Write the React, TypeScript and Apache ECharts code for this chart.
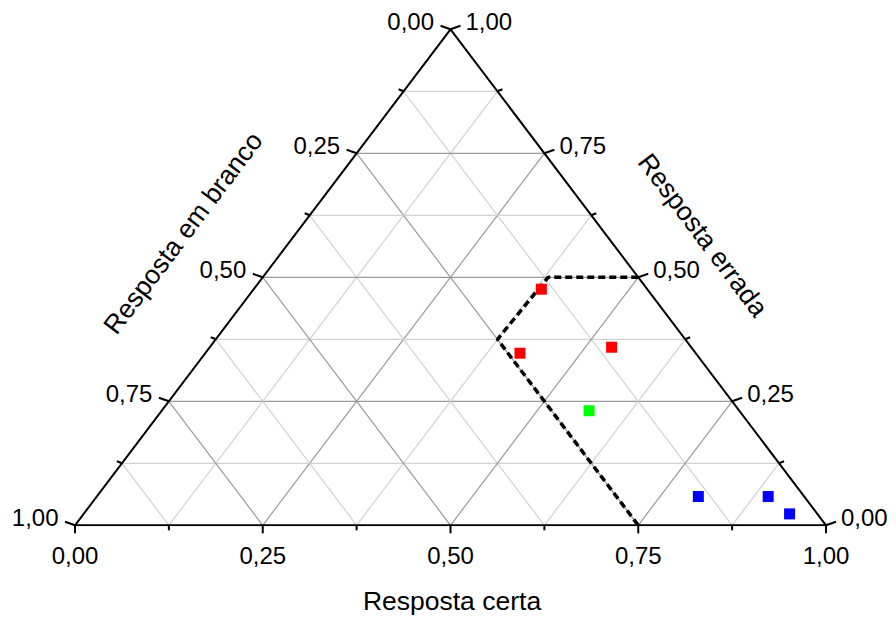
import React, { useEffect, useRef } from 'react';
import * as echarts from 'echarts';

// ternary data: certa (bottom axis), errada (right axis); branco = 1 - certa - errada
const gridLevels = [0.125, 0.25, 0.375, 0.5, 0.625, 0.75, 0.875];
const tickLevels = [0, 0.125, 0.25, 0.375, 0.5, 0.625, 0.75, 0.875, 1];
const tickValues = [0, 0.25, 0.5, 0.75, 1];
const tickLabels = ['0,00', '0,25', '0,50', '0,75', '1,00'];

const titleBottom = 'Resposta certa';
const titleLeft = 'Resposta em branco';
const titleRight = 'Resposta errada';

const redCerta = [0.383, 0.419, 0.535];
const redErrada = [0.476, 0.347, 0.359];
const greenCerta = [0.569];
const greenErrada = [0.231];
const blueCerta = [0.801, 0.894, 0.94];
const blueErrada = [0.058, 0.058, 0.023];
const boundaryCerta = [0.5, 0.38, 0.375, 0.75];
const boundaryErrada = [0.5, 0.5, 0.375, 0];

const FONT = "'Liberation Sans', Arial, sans-serif";

const toXY = (c: number, e: number) => [c + e / 2, e];

function isMajor(v: number) {
  return Math.abs(v * 4 - Math.round(v * 4)) < 1e-6;
}

// grid segments: [x1, y1, x2, y2, major]
function buildGrid() {
  const segs: number[][] = [];
  gridLevels.forEach((v) => {
    const m = isMajor(v) ? 1 : 0;
    const a1 = toXY(0, v), a2 = toXY(1 - v, v); // errada = v
    segs.push([a1[0], a1[1], a2[0], a2[1], m]);
    const b1 = toXY(v, 0), b2 = toXY(v, 1 - v); // certa = v
    segs.push([b1[0], b1[1], b2[0], b2[1], m]);
    const c1 = toXY(1 - v, 0), c2 = toXY(0, 1 - v); // branco = v
    segs.push([c1[0], c1[1], c2[0], c2[1], m]);
  });
  return segs;
}

// ticks: [x, y, axis, major, labelIndex]
function buildTicks() {
  const t: number[][] = [];
  tickLevels.forEach((v) => {
    const m = isMajor(v) ? 1 : 0;
    const li = tickValues.findIndex((tv) => Math.abs(tv - v) < 1e-6);
    const p0 = toXY(v, 0); // certa = v
    t.push([p0[0], p0[1], 0, m, li]);
    const p1 = toXY(0, 1 - v); // branco = v
    t.push([p1[0], p1[1], 1, m, li]);
    const p2 = toXY(1 - v, v); // errada = v
    t.push([p2[0], p2[1], 2, m, li]);
  });
  return t;
}

const pts = (cs: number[], es: number[]) => cs.map((c, i) => toXY(c, es[i]));

export default function App() {
  const ref = useRef<HTMLDivElement>(null);
  useEffect(() => {
    if (!ref.current) return;
    const chart = echarts.init(ref.current, undefined, { renderer: 'svg' });
    const option: any = {
      animation: false,
      backgroundColor: '#ffffff',
      grid: { left: 75, top: 29.3, width: 751, height: 496, containLabel: false },
      xAxis: { type: 'value', min: 0, max: 1, show: false },
      yAxis: { type: 'value', min: 0, max: 1, show: false },
      series: [
        {
          type: 'custom',
          clip: false,
          silent: true,
          z: 1,
          data: buildGrid(),
          renderItem: (params: any, api: any) => {
            const p1 = api.coord([api.value(0), api.value(1)]);
            const p2 = api.coord([api.value(2), api.value(3)]);
            const major = api.value(4) === 1;
            return {
              type: 'line',
              shape: { x1: p1[0], y1: p1[1], x2: p2[0], y2: p2[1] },
              style: { stroke: major ? '#9a9a9a' : '#d2d2d2', lineWidth: 1.2 },
            };
          },
        },
        {
          type: 'line',
          z: 3,
          silent: true,
          symbol: 'none',
          data: [toXY(0, 0), toXY(1, 0), toXY(0, 1), toXY(0, 0)],
          lineStyle: { color: '#000', width: 2 },
        },
        {
          type: 'custom',
          clip: false,
          silent: true,
          z: 3,
          data: buildTicks(),
          renderItem: (params: any, api: any) => {
            const p = api.coord([api.value(0), api.value(1)]);
            const axis = api.value(2);
            const major = api.value(3) === 1;
            const li = api.value(4);
            let dx = 0, dy = 0, lx = 0, ly = 0, align = 'center';
            if (axis === 0) {
              dx = 0; dy = major ? 8 : 5;
              lx = 0; ly = 30; align = 'center';
            } else if (axis === 1) {
              dx = major ? -10 : -5; dy = major ? -3.5 : -2;
              lx = -16.5; ly = -7.5; align = 'right';
            } else {
              dx = major ? 10 : 5; dy = major ? -3.5 : -2;
              lx = 15; ly = -7.5; align = 'left';
            }
            const children: any[] = [
              {
                type: 'line',
                shape: { x1: p[0], y1: p[1], x2: p[0] + dx, y2: p[1] + dy },
                style: { stroke: '#000', lineWidth: 2 },
              },
            ];
            if (major && li >= 0) {
              children.push({
                type: 'text',
                x: p[0] + lx,
                y: p[1] + ly,
                style: {
                  text: tickLabels[li],
                  fill: '#000',
                  fontSize: 24,
                  fontFamily: FONT,
                  align,
                  verticalAlign: 'middle',
                },
              });
            }
            return { type: 'group', children };
          },
        },
        {
          type: 'line',
          z: 4,
          silent: true,
          symbol: 'none',
          data: pts(boundaryCerta, boundaryErrada),
          lineStyle: { color: '#000', width: 3.5, type: [7, 4] },
        },
        {
          type: 'scatter',
          z: 5,
          symbol: 'rect',
          symbolSize: 11,
          itemStyle: { color: '#ff0000', opacity: 1 },
          data: pts(redCerta, redErrada),
        },
        {
          type: 'scatter',
          z: 5,
          symbol: 'rect',
          symbolSize: 11,
          itemStyle: { color: '#00ff00', opacity: 1 },
          data: pts(greenCerta, greenErrada),
        },
        {
          type: 'scatter',
          z: 5,
          symbol: 'rect',
          symbolSize: 11,
          itemStyle: { color: '#0000ff', opacity: 1 },
          data: pts(blueCerta, blueErrada),
        },
      ],
      graphic: [
        {
          type: 'text',
          x: 452,
          y: 601,
          style: { text: titleBottom, fill: '#000', fontSize: 26.5, fontFamily: FONT, align: 'center', verticalAlign: 'middle' },
        },
        {
          type: 'text',
          x: 183,
          y: 233,
          rotation: (53 * Math.PI) / 180,
          style: { text: titleLeft, fill: '#000', fontSize: 26.5, fontFamily: FONT, align: 'center', verticalAlign: 'middle' },
        },
        {
          type: 'text',
          x: 703,
          y: 235,
          rotation: (-53 * Math.PI) / 180,
          style: { text: titleRight, fill: '#000', fontSize: 26.5, fontFamily: FONT, align: 'center', verticalAlign: 'middle' },
        },
      ],
    };
    chart.setOption(option);
    return () => chart.dispose();
  }, []);
  return (
    <div
      ref={ref}
      style={{ position: 'absolute', left: 0, top: 0, width: 896, height: 619 }}
    />
  );
}
